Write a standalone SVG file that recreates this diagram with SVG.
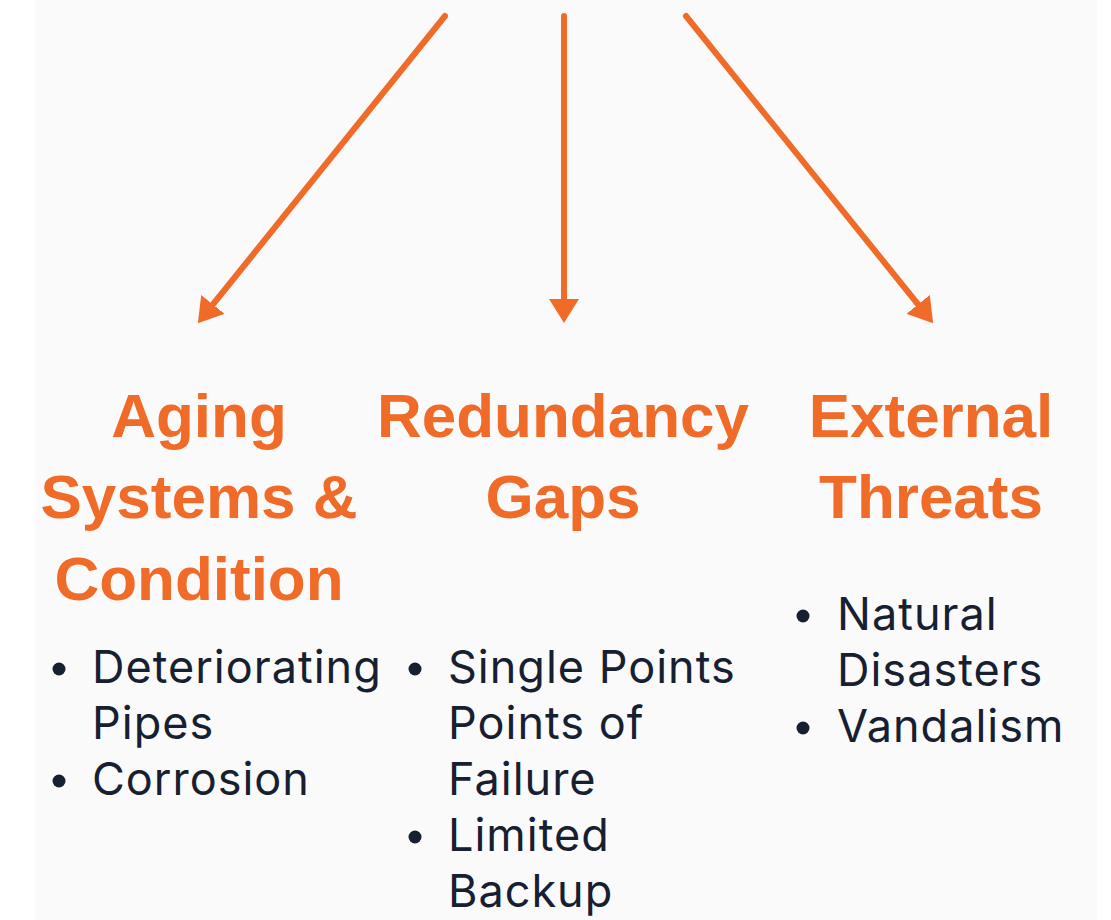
<svg xmlns="http://www.w3.org/2000/svg" width="1111" height="920" viewBox="0 0 1111 920">
<defs>
<style>
.h{font-family:"Liberation Sans",Arial,sans-serif;font-weight:700;font-size:62px;fill:#f06a28;text-anchor:middle}
.b{font-family:Inter,"Noto Sans",sans-serif;font-size:45px;letter-spacing:1px;fill:#172031}
.dot{fill:#172031}
.arr{stroke:#f06a28;stroke-width:6;stroke-linecap:round;fill:none}
</style>
<marker id="ah" viewBox="0 0 24 30" markerWidth="24" markerHeight="30" refX="11" refY="15" orient="auto" markerUnits="userSpaceOnUse">
<path d="M0,0 L24,15 L0,30 z" fill="#f06a28"/>
</marker>
</defs>
<rect x="0" y="0" width="1111" height="920" fill="#ffffff"/>
<rect x="35" y="0" width="1062" height="920" fill="#fafafa"/>
<g id="connectors">
<line class="arr" x1="445" y1="16" x2="206" y2="313" marker-end="url(#ah)"/>
<line class="arr" x1="564" y1="16" x2="564" y2="310" marker-end="url(#ah)"/>
<line class="arr" x1="686" y1="16" x2="925" y2="313" marker-end="url(#ah)"/>
</g>
<g id="aging">
<text class="h" x="199" y="437">Aging</text>
<text class="h" x="199" y="518">Systems &amp;</text>
<text class="h" x="199" y="600">Condition</text>
<circle class="dot" cx="59" cy="669" r="6.5"/>
<text class="b" x="92" y="683">Deteriorating</text>
<text class="b" x="92" y="739">Pipes</text>
<circle class="dot" cx="59" cy="781" r="6.5"/>
<text class="b" x="92" y="795">Corrosion</text>
</g>
<g id="redundancy">
<text class="h" x="563" y="437">Redundancy</text>
<text class="h" x="563" y="518">Gaps</text>
<circle class="dot" cx="415" cy="669" r="6.5"/>
<text class="b" x="448" y="683">Single Points</text>
<text class="b" x="448" y="739">Points of</text>
<text class="b" x="448" y="795">Failure</text>
<circle class="dot" cx="415" cy="837" r="6.5"/>
<text class="b" x="448" y="851">Limited</text>
<text class="b" x="448" y="907">Backup</text>
</g>
<g id="external">
<text class="h" x="931" y="437">External</text>
<text class="h" x="931" y="518">Threats</text>
<circle class="dot" cx="803" cy="616" r="6.5"/>
<text class="b" x="837" y="630">Natural</text>
<text class="b" x="837" y="686">Disasters</text>
<circle class="dot" cx="803" cy="728" r="6.5"/>
<text class="b" x="837" y="742">Vandalism</text>
</g>
</svg>
